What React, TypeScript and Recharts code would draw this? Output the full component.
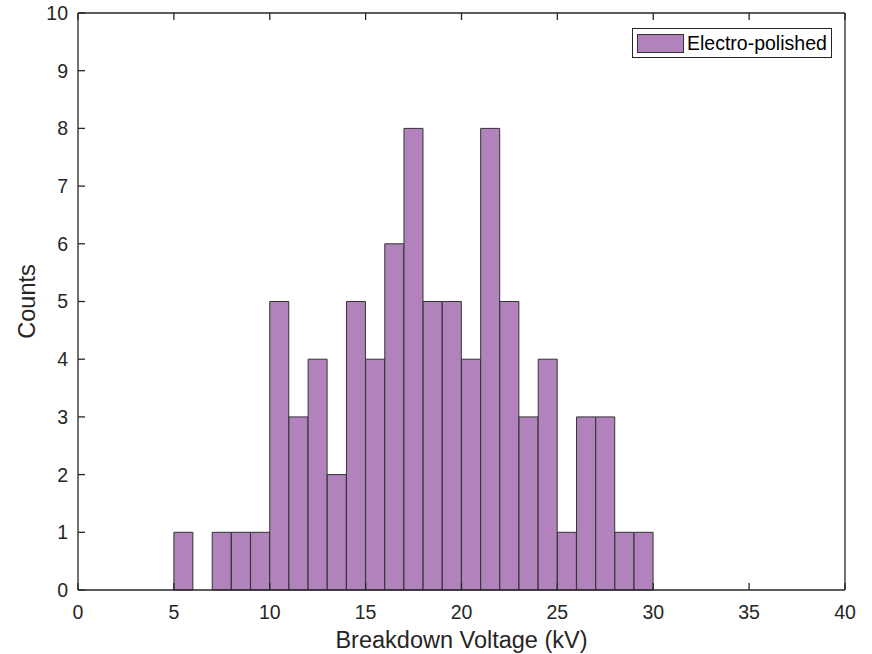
import React from 'react';
import { ComposedChart, Bar, XAxis, YAxis, Legend } from 'recharts';

const binStarts = [5, 6, 7, 8, 9, 10, 11, 12, 13, 14, 15, 16, 17, 18, 19, 20, 21, 22, 23, 24, 25, 26, 27, 28, 29];
const counts = [1, 0, 1, 1, 1, 5, 3, 4, 2, 5, 4, 6, 8, 5, 5, 4, 8, 5, 3, 4, 1, 3, 3, 1, 1];
const xTicks = [0, 5, 10, 15, 20, 25, 30, 35, 40];
const yTicks = [0, 1, 2, 3, 4, 5, 6, 7, 8, 9, 10];
const seriesName = 'Electro-polished';
const xLabel = 'Breakdown Voltage (kV)';
const yLabel = 'Counts';

const data = binStarts.map((s, i) => ({ x: s + 0.5, count: counts[i] ? counts[i] : null }));

const FONT = '"Liberation Sans", Arial, Helvetica, sans-serif';
const AXIS = '#262626';
const FILL = '#b182bc';
const EDGE = '#333333';

const LegendBox = () => (
  <div
    style={{
      display: 'flex',
      alignItems: 'center',
      border: `1.5px solid ${AXIS}`,
      background: '#fff',
      padding: '0 4px',
      fontFamily: FONT,
      fontSize: 19.5,
      color: '#000',
      boxSizing: 'border-box',
      height: 30,
      width: 200,
      whiteSpace: 'nowrap',
    }}
  >
    <div
      style={{
        width: 47,
        height: 19,
        background: FILL,
        border: `1px solid ${EDGE}`,
        boxSizing: 'border-box',
        marginRight: 3,
        flex: 'none',
      }}
    />
    <span>{seriesName}</span>
  </div>
);

export default function App() {
  const axisLine = { stroke: AXIS, strokeWidth: 1.3 };
  const tickLine = { stroke: AXIS, strokeWidth: 1.3 };
  const tickStyle = { fill: AXIS, fontSize: 19.5, fontFamily: FONT };
  return (
    <div style={{ position: 'absolute', left: 0, top: 0, background: '#fff' }}>
      <ComposedChart
        width={872}
        height={654}
        data={data}
        margin={{ top: 12, right: 26, left: 0, bottom: 0 }}
        barCategoryGap={0}
        barGap={0}
      >
        <XAxis
          xAxisId="b"
          dataKey="x"
          type="number"
          domain={[0, 40]}
          ticks={xTicks}
          interval={0}
          tickSize={-7}
          tickMargin={22}
          height={64}
          axisLine={axisLine}
          tickLine={tickLine}
          tick={tickStyle}
          label={{ value: xLabel, position: 'insideBottom', offset: 6, fill: AXIS, fontSize: 23.5, fontFamily: FONT }}
        />
        <XAxis
          xAxisId="t"
          dataKey="x"
          orientation="top"
          type="number"
          domain={[0, 40]}
          ticks={xTicks}
          interval={0}
          tickSize={-7}
          height={1}
          axisLine={axisLine}
          tickLine={tickLine}
          tickFormatter={() => ''}
        />
        <YAxis
          yAxisId="l"
          type="number"
          domain={[0, 10]}
          ticks={yTicks}
          interval={0}
          tickSize={-7}
          tickMargin={17}
          width={78}
          axisLine={axisLine}
          tickLine={tickLine}
          tick={tickStyle}
          label={{ value: yLabel, angle: -90, position: 'insideLeft', offset: 27, fill: AXIS, fontSize: 23.5, fontFamily: FONT, style: { textAnchor: 'middle' } }}
        />
        <YAxis
          yAxisId="r"
          orientation="right"
          type="number"
          domain={[0, 10]}
          ticks={yTicks}
          interval={0}
          tickSize={-7}
          width={1}
          axisLine={axisLine}
          tickLine={tickLine}
          tickFormatter={() => ''}
        />
        <Legend
          layout="vertical"
          align="center"
          verticalAlign="middle"
          wrapperStyle={{ left: 632, top: 28, width: 200, height: 30 }}
          content={<LegendBox />}
        />
        <Bar
          xAxisId="b"
          yAxisId="l"
          dataKey="count"
          name={seriesName}
          fill={FILL}
          stroke={EDGE}
          strokeWidth={1}
          isAnimationActive={false}
        />
      </ComposedChart>
    </div>
  );
}
